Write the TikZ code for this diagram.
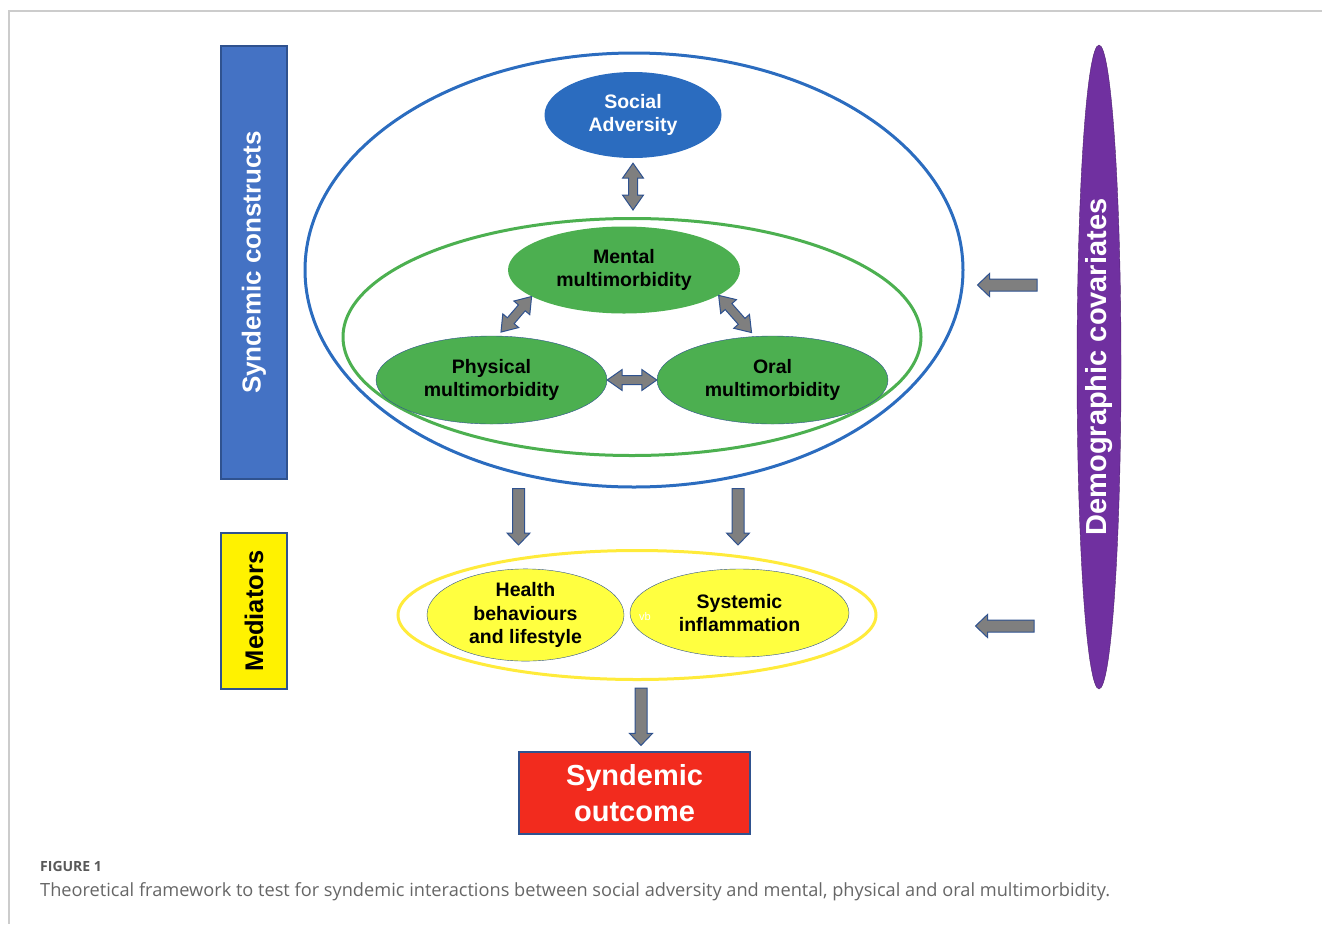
\documentclass[tikz,border=0pt]{standalone}
\usepackage{fontspec}
\setmainfont{Liberation Sans}
\newfontfamily\capfont{Open Sans}
\usetikzlibrary{shapes.geometric,calc}

\definecolor{barblue}{HTML}{4472C4}
\definecolor{edgeblue}{HTML}{2F528F}
\definecolor{synblue}{HTML}{2B6CBF}
\definecolor{leafgreen}{HTML}{4CAF50}
\definecolor{ringgreen}{HTML}{4CB050}
\definecolor{medyellow}{HTML}{FFFF40}
\definecolor{ringyellow}{HTML}{FFEB3B}
\definecolor{covpurple}{HTML}{7030A0}
\definecolor{outred}{HTML}{F22B1E}
\definecolor{arrowgray}{HTML}{7F7F7F}

\tikzset{
  ring/.style={ellipse, line width=3, inner sep=0},
  blob/.style={ellipse, inner sep=0, align=center, font=\bfseries\fontsize{19.5}{23.5}\selectfont},
  bar/.style={rectangle, rotate=90, draw=edgeblue, line width=1.2, inner sep=0},
  fatarrow/.style={fill=arrowgray, draw=edgeblue, line width=1, line join=miter}
}

% one headed block arrow from #1 to #2
\newcommand\oneway[2]{%
  \coordinate (ta) at (#1); \coordinate (tb) at (#2);
  \coordinate (hb) at ($(tb)!12pt!(ta)$);
  \filldraw[fatarrow] ($(ta)!6pt!90:(tb)$) -- ($(hb)!6pt!90:(tb)$) -- ($(hb)!11.5pt!90:(tb)$)
    -- (tb) -- ($(hb)!11.5pt!-90:(tb)$) -- ($(hb)!6pt!-90:(tb)$) -- ($(ta)!6pt!-90:(tb)$) -- cycle;
}
% two headed block arrow between #1 and #2
\newcommand\twoway[2]{%
  \coordinate (ta) at (#1); \coordinate (tb) at (#2);
  \coordinate (ha) at ($(ta)!15pt!(tb)$);
  \coordinate (hb) at ($(tb)!15pt!(ta)$);
  \filldraw[fatarrow] (ta) -- ($(ha)!10.5pt!90:(tb)$) -- ($(ha)!4.5pt!90:(tb)$) -- ($(hb)!4.5pt!90:(tb)$)
    -- ($(hb)!10.5pt!90:(tb)$) -- (tb) -- ($(hb)!10.5pt!-90:(tb)$) -- ($(hb)!4.5pt!-90:(tb)$)
    -- ($(ha)!4.5pt!-90:(tb)$) -- ($(ha)!10.5pt!-90:(tb)$) -- cycle;
}

\begin{document}
\begin{tikzpicture}[x=1pt, y=-1pt]
  \useasboundingbox (0,0) rectangle (1322,924);

  %% frame
  \draw[black!20, line width=1.2] (1322,11) -- (9,11) -- (9,924);

  %% side bars
  \node[bar, fill=barblue, text=white, font=\bfseries\fontsize{26}{30}\selectfont,
    minimum width=433, minimum height=66] (consbar) at (254,262.5) {Syndemic constructs};
  \node[bar, fill=yellow, font=\bfseries\fontsize{25.5}{30}\selectfont,
    minimum width=156, minimum height=66] (medbar) at (254,611) {Mediators};

  %% rings
  \node[ring, draw=synblue, minimum width=658, minimum height=434] (syndemic) at (634,270) {};
  \node[ring, draw=ringgreen, minimum width=578, minimum height=237] (multi) at (632,337) {};
  \node[ring, draw=ringyellow, minimum width=478, minimum height=129] (medring) at (637,615) {};

  %% constructs
  \node[blob, fill=synblue, text=white, minimum width=177, minimum height=86] (social) at (633,115) {Social\\Adversity};
  \node[blob, fill=leafgreen, minimum width=232, minimum height=87] (mental) at (624,270) {Mental\\multimorbidity};
  \node[blob, fill=leafgreen, draw=edgeblue, minimum width=231, minimum height=88] (physical) at (491.5,380) {Physical\\multimorbidity};
  \node[blob, fill=leafgreen, draw=edgeblue, minimum width=231, minimum height=88] (oral) at (772.5,380) {Oral\\multimorbidity};

  %% mediators
  \node[blob, fill=medyellow, draw=edgeblue, minimum width=197, minimum height=88] (health) at (525.5,615) {Health\\behaviours\\and lifestyle};
  \node[blob, fill=medyellow, draw=edgeblue, minimum width=219, minimum height=88] (inflam) at (739.5,613) {Systemic\\inflammation};
  \node[text=white, font=\fontsize{11}{13}\selectfont] (vb) at (645,617) {vb};

  %% covariates
  \node[ellipse, rotate=90, fill=covpurple, draw=covpurple!70!black, inner sep=0, text=white,
    font=\bfseries\fontsize{29}{34}\selectfont, minimum width=644, minimum height=44] (covars) at (1099,367) {Demographic covariates};

  %% outcome
  \node[rectangle, fill=outred, draw=edgeblue, line width=1.2, text=white, align=center,
    font=\bfseries\fontsize{29}{36}\selectfont, minimum width=231, minimum height=82] (outcome) at (634.5,793) {Syndemic\\outcome};

  %% arrows
  \twoway{$(social.south)+(0,5)$}{$(social.south |- multi.north)+(0,-7)$}
  \twoway{mental.196}{$(physical.82)!5pt!(mental.196)$}
  \twoway{mental.345}{$(oral.112)!5pt!(mental.345)$}
  \twoway{physical.east}{oral.west}
  \oneway{$(health.north |- syndemic.south)+(-7,0)$}{$(health.north |- medring.north)+(-7,-4)$}
  \oneway{$(inflam.north |- syndemic.south)+(-1.5,0)$}{$(inflam.north |- medring.north)+(-1.5,-4)$}
  \oneway{$(medring.south)+(4,7)$}{$(medring.south |- outcome.north)+(4,-6)$}
  \oneway{$(covars.center)+(-62,-82)$}{$(syndemic.east)+(13,15)$}
  \oneway{$(covars.center)+(-65,259)$}{$(medring.east)+(98,11)$}

  %% caption
  \node[anchor=base west, inner sep=0, text=black!65, font=\capfont\bfseries\fontsize{14}{16}\selectfont] (fig) at (40,871) {FIGURE 1};
  \node[anchor=base west, inner sep=0, text=black!60, font=\capfont\fontsize{18.2}{21}\selectfont] (caption) at (40,896)
    {Theoretical framework to test for syndemic interactions between social adversity and mental, physical and oral multimorbidity.};
\end{tikzpicture}
\end{document}
